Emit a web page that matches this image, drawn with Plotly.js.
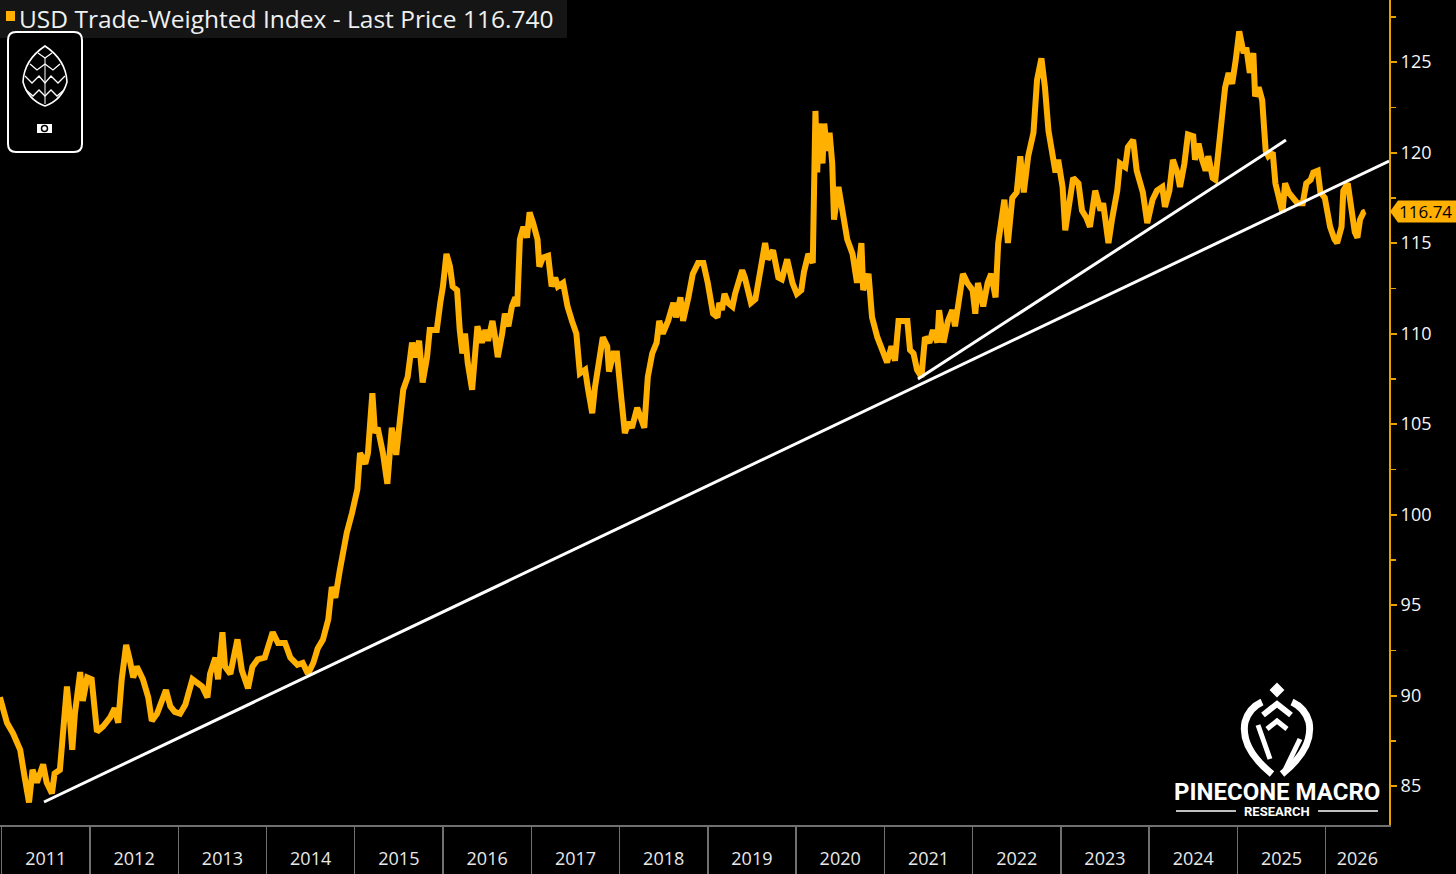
<!DOCTYPE html>
<html><head><meta charset="utf-8">
<script src="https://cdn.plot.ly/plotly-3.0.1.min.js"></script>
<style>html,body{margin:0;padding:0;background:#000;overflow:hidden}#chart{width:1456px;height:874px}</style>
</head><body><div id="chart"></div>
<script>
// Dates as decimal years
const dates = [
2010.98,2011.02,2011.06,2011.13,2011.21,2011.26,2011.31,2011.35,2011.40,2011.47,2011.51,2011.57,2011.60,2011.66,2011.69,2011.74,2011.77,2011.80,2011.83,2011.89,2011.92,2011.97,
2012.02,2012.08,2012.15,2012.23,2012.28,2012.32,2012.36,2012.41,2012.45,2012.49,2012.53,2012.60,2012.66,2012.70,2012.76,2012.82,2012.86,2012.91,2012.96,
2013.02,2013.08,2013.16,2013.21,2013.27,2013.33,2013.36,2013.42,2013.45,2013.50,2013.53,2013.59,2013.67,2013.72,2013.79,2013.84,2013.90,2013.98,
2014.03,2014.07,2014.13,2014.21,2014.27,2014.35,2014.41,2014.47,2014.53,2014.58,2014.64,2014.70,2014.74,2014.78,2014.83,2014.91,2014.97,
2015.00,2015.03,2015.06,2015.12,2015.15,2015.20,2015.23,2015.26,2015.32,2015.37,2015.42,2015.47,2015.51,2015.55,2015.60,2015.65,2015.68,2015.73,2015.77,2015.82,2015.85,2015.93,2015.97,
2016.00,2016.04,2016.08,2016.11,2016.16,2016.19,2016.22,2016.25,2016.28,2016.33,2016.36,2016.39,2016.44,2016.48,2016.51,2016.56,2016.59,2016.62,2016.67,2016.70,2016.74,2016.78,2016.82,2016.84,2016.87,2016.91,2016.95,2016.98,
2017.02,2017.07,2017.09,2017.13,2017.19,2017.23,2017.27,2017.30,2017.36,2017.41,2017.46,2017.51,2017.55,2017.61,2017.64,2017.69,2017.72,2017.76,2017.81,2017.86,2017.88,2017.93,2017.97,
2018.01,2018.06,2018.10,2018.14,2018.20,2018.23,2018.28,2018.32,2018.37,2018.42,2018.45,2018.49,2018.55,2018.61,2018.64,2018.69,2018.72,2018.78,2018.83,2018.89,2018.95,
2019.00,2019.06,2019.11,2019.13,2019.16,2019.19,2019.23,2019.28,2019.31,2019.34,2019.39,2019.42,2019.45,2019.49,2019.54,2019.59,2019.65,2019.68,2019.74,2019.80,2019.84,2019.90,2019.96,
2020.01,2020.06,2020.09,2020.14,2020.19,2020.22,2020.24,2020.26,2020.30,2020.32,2020.35,2020.38,2020.41,2020.43,2020.48,2020.52,2020.58,2020.64,2020.69,2020.74,2020.76,2020.82,2020.86,2020.92,2020.98,
2021.03,2021.08,2021.12,2021.16,2021.21,2021.26,2021.29,2021.33,2021.37,2021.42,2021.46,2021.51,2021.55,2021.60,2021.62,2021.67,2021.72,2021.77,2021.80,2021.84,2021.89,2021.94,
2022.00,2022.03,2022.06,2022.12,2022.17,2022.21,2022.26,2022.29,2022.34,2022.36,2022.40,2022.45,2022.50,2022.54,2022.58,2022.63,2022.69,2022.73,2022.78,2022.82,2022.86,2022.90,2022.94,2022.97,
2023.02,2023.05,2023.10,2023.14,2023.20,2023.24,2023.29,2023.33,2023.39,2023.45,2023.48,2023.54,2023.58,2023.64,2023.67,2023.73,2023.76,2023.82,2023.86,2023.89,2023.93,2023.98,
2024.04,2024.09,2024.15,2024.18,2024.23,2024.27,2024.32,2024.35,2024.40,2024.44,2024.50,2024.52,2024.56,2024.60,2024.64,2024.67,2024.72,2024.75,2024.78,2024.83,2024.86,2024.90,2024.94,2024.98,
2025.02,2025.07,2025.10,2025.14,2025.18,2025.20,2025.24,2025.28,2025.32,2025.35,2025.40,2025.43,2025.46,2025.51,2025.54,2025.58,2025.63,2025.68,2025.74,2025.78,2025.83,2025.86,2025.91,2025.94,2025.99,
2026.02,2026.05,2026.10,2026.13,2026.18,2026.20,2026.25,2026.29,2026.33,2026.36,2026.39,2026.43,2026.45
];
const values = [
89.9,89.2,88.5,87.9,87.0,85.5,84.1,85.9,85.2,86.2,85.2,84.6,85.7,85.9,87.5,90.5,89.0,87.0,89.0,91.3,89.7,91.0,
90.9,88.0,88.3,88.8,89.3,88.5,90.9,92.8,92.0,91.0,91.6,90.9,89.9,88.6,89.0,89.7,90.3,89.4,89.1,
89.0,89.5,90.9,90.7,90.5,89.9,91.2,92.1,90.9,93.5,91.6,91.2,93.1,91.4,90.4,91.6,92.0,92.1,
92.9,93.5,92.9,92.9,92.1,91.7,91.8,91.2,91.8,92.6,93.1,94.2,96.0,95.4,96.9,99.0,100.1,
101.0,101.4,103.4,102.8,103.4,106.7,104.5,104.8,103.4,101.7,104.8,103.3,105.1,106.9,107.6,109.5,108.7,109.6,107.3,108.7,110.2,110.2,111.7,
112.6,114.4,113.7,112.6,112.4,110.2,108.9,110.0,108.4,106.9,109.1,110.4,109.5,110.2,109.6,110.7,109.8,108.7,110.0,111.1,110.4,111.5,112.0,111.5,115.2,115.9,115.3,116.7,
116.1,115.2,113.7,114.2,114.3,112.6,113.1,112.6,112.8,111.5,110.7,110.0,107.8,108.0,107.0,105.6,107.0,108.5,109.8,109.3,107.9,108.9,108.9,
106.9,104.5,105.1,104.8,105.9,105.4,104.8,107.6,108.9,109.5,110.7,110.0,110.7,111.7,110.9,112.0,110.7,112.0,113.3,113.9,113.9,
112.8,111.1,110.9,111.7,111.3,112.2,111.7,111.5,112.2,112.6,113.5,113.1,112.4,111.7,111.9,113.3,115.0,114.1,114.6,113.1,113.0,114.1,112.8,
112.2,112.4,113.4,114.4,113.9,122.3,118.9,121.6,119.4,121.6,120.1,121.1,119.4,116.3,118.1,116.7,115.2,114.4,112.8,115.0,112.4,113.3,110.9,109.8,108.9,
108.4,109.3,108.5,110.7,110.7,110.7,109.1,108.9,108.0,107.6,109.8,109.5,110.2,109.5,111.3,109.5,110.7,111.3,110.4,111.7,113.3,112.8,
112.4,111.1,112.8,111.5,112.8,113.3,112.0,115.0,116.4,117.4,115.0,117.5,117.8,119.8,117.8,119.8,121.1,124.0,125.2,123.6,121.2,120.0,118.9,119.6,
118.1,115.7,117.4,118.6,118.3,116.8,116.4,115.9,117.9,116.8,117.2,115.0,116.3,117.9,119.4,119.2,120.3,120.7,119.0,118.5,117.8,116.1,
117.4,117.9,118.1,117.0,117.9,119.6,118.9,118.1,119.4,121.0,120.9,119.6,120.5,119.6,119.0,119.8,118.6,118.5,119.8,121.8,123.6,124.4,123.8,125.1,
126.7,125.5,125.8,124.4,125.5,123.1,123.6,122.9,120.1,119.8,120.0,118.3,117.8,116.7,118.3,117.8,117.5,117.2,117.2,118.3,118.5,118.9,119.0,117.8,117.5,
116.4,115.9,115.2,115.0,115.9,117.9,118.3,117.0,115.6,115.3,116.3,116.7,116.74
];
const trendMainDates = [2011.48, 2026.72];
const trendMainValues = [84.12, 119.53];
const trendRecentDates = [2021.38, 2025.55];
const trendRecentValues = [107.49, 120.69];
const yearLabels = ['2011','2012','2013','2014','2015','2016','2017','2018','2019','2020','2021','2022','2023','2024','2025','2026'];
const yRange = [82.85, 128.43];
const viewStart = 2010.981, viewEnd = 2026.718;
const lastPrice = 116.74;
const titleText = 'USD Trade-Weighted Index - Last Price 116.740';

const ORANGE = '#FFB000';
const AXIS_OR = '#E9A100';

function toDate(t) {
  const y = Math.floor(t);
  const s = Date.UTC(y, 0, 1), e = Date.UTC(y + 1, 0, 1);
  return new Date(s + (t - y) * (e - s)).toISOString().replace('T', ' ').slice(0, 19);
}

const yearNums = yearLabels.map(Number);
const labelPos = yearNums.map(y => {
  const a = Math.max(y, viewStart), b = Math.min(y + 1, viewEnd);
  return toDate((a + b) / 2);
});
const separators = yearNums.map(y => toDate(y));

const traces = [
  {x: dates.map(toDate), y: values, type: 'scatter', mode: 'lines',
   line: {color: ORANGE, width: 6}, hoverinfo: 'skip'},
  {x: trendMainDates.map(toDate), y: trendMainValues, type: 'scatter', mode: 'lines',
   line: {color: '#ffffff', width: 3}, hoverinfo: 'skip'},
  {x: trendRecentDates.map(toDate), y: trendRecentValues, type: 'scatter', mode: 'lines',
   line: {color: '#ffffff', width: 3}, hoverinfo: 'skip'}
];

function pxShape(path, opts) {
  return Object.assign({type: 'path', xref: 'paper', yref: 'paper', xsizemode: 'pixel', ysizemode: 'pixel',
    xanchor: 0, yanchor: 1, path: path, line: {color: '#fff', width: 2}}, opts || {});
}

const shapes = [
  // title band
  {type: 'rect', xref: 'paper', yref: 'paper', xsizemode: 'pixel', ysizemode: 'pixel', xanchor: 0, yanchor: 1,
   x0: 0, x1: 567, y0: -38, y1: 0, fillcolor: '#151515', line: {width: 0}},
  {type: 'rect', xref: 'paper', yref: 'paper', xsizemode: 'pixel', ysizemode: 'pixel', xanchor: 0, yanchor: 1,
   x0: 6, x1: 15, y0: -21, y1: -11, fillcolor: ORANGE, line: {width: 0}},
  // pinecone badge
  pxShape('M16,-32 L74,-32 Q82,-32 82,-40 L82,-144 Q82,-152 74,-152 L16,-152 Q8,-152 8,-144 L8,-40 Q8,-32 16,-32 Z',
    {fillcolor: '#000'}),
  pxShape('M45,-46 Q66,-60 67,-82 Q62,-100 45,-106 Q28,-100 23,-82 Q24,-60 45,-46 Z', {line: {color: '#fff', width: 1.6}}),
  pxShape('M38,-53 L45,-58 L52,-53', {line: {color: '#fff', width: 1.3}}),
  pxShape('M30,-64 L37,-70 L45,-64 L53,-70 L60,-64', {line: {color: '#fff', width: 1.3}}),
  pxShape('M25,-76 L32,-83 L39,-76 L45,-83 L51,-76 L58,-83 L65,-76', {line: {color: '#fff', width: 1.3}}),
  pxShape('M26,-90 L33,-96 L39,-90 L45,-96 L51,-90 L57,-96 L64,-90', {line: {color: '#fff', width: 1.3}}),
  pxShape('M45,-58 L45,-104', {line: {color: '#fff', width: 1}}),
  {type: 'rect', xref: 'paper', yref: 'paper', xsizemode: 'pixel', ysizemode: 'pixel', xanchor: 0, yanchor: 1,
   x0: 37, x1: 52, y0: -133, y1: -124, fillcolor: '#fff', line: {width: 0}},
  {type: 'circle', xref: 'paper', yref: 'paper', xsizemode: 'pixel', ysizemode: 'pixel', xanchor: 0, yanchor: 1,
   x0: 41.5, x1: 47.5, y0: -131.5, y1: -125.5, fillcolor: '#fff', line: {color: '#000', width: 1.5}},
  // last price tag
  {type: 'path', xref: 'paper', yref: 'y', xsizemode: 'pixel', ysizemode: 'pixel', xanchor: 1, yanchor: lastPrice,
   path: 'M1,0 L9,11 L80,11 L80,-11 L9,-11 Z', fillcolor: ORANGE, line: {width: 0}},
  // watermark logo (anchored at bottom-right corner of plot)
  Object.assign(pxShape('M-112,141 L-106,135 L-112,129 L-118,135 Z', {fillcolor: '#fff'}), {xanchor: 1, yanchor: 0}),
  Object.assign(pxShape('M-117,51 Q-149,77 -144,103 Q-140,117 -127,123', {line: {color: '#fff', width: 7}}), {xanchor: 1, yanchor: 0}),
  Object.assign(pxShape('M-107,51 Q-75,77 -80,103 Q-84,117 -97,123', {line: {color: '#fff', width: 7}}), {xanchor: 1, yanchor: 0}),
  Object.assign(pxShape('M-126,110 L-112,121 L-98,110', {line: {color: '#fff', width: 6}}), {xanchor: 1, yanchor: 0}),
  Object.assign(pxShape('M-122,96 L-112,104 L-102,96', {line: {color: '#fff', width: 5}}), {xanchor: 1, yanchor: 0}),
  Object.assign(pxShape('M-131,100 L-119,66', {line: {color: '#fff', width: 5}}), {xanchor: 1, yanchor: 0}),
  Object.assign(pxShape('M-104,55 L-89,86', {line: {color: '#fff', width: 5}}), {xanchor: 1, yanchor: 0}),
  Object.assign(pxShape('M-213,14 L-153,14', {line: {color: '#fff', width: 1.5}}), {xanchor: 1, yanchor: 0}),
  Object.assign(pxShape('M-71,14 L-11,14', {line: {color: '#fff', width: 1.5}}), {xanchor: 1, yanchor: 0})
];

const annotations = [
  {xref: 'paper', yref: 'paper', x: 0, y: 1, xanchor: 'left', yanchor: 'middle', xshift: 17, yshift: -18,
   text: titleText, showarrow: false, font: {family: 'Open Sans', size: 24.5, color: '#f0f0f0'}},
  {xref: 'paper', yref: 'y', x: 1, y: lastPrice, xanchor: 'left', yanchor: 'middle', xshift: 8,
   text: lastPrice.toFixed(2), showarrow: false, font: {family: 'Open Sans', size: 17, color: '#000'}},
  {xref: 'paper', yref: 'paper', x: 1, y: 0, xanchor: 'center', yanchor: 'middle', xshift: -112, yshift: 33,
   text: '<b>PINECONE MACRO</b>', showarrow: false, font: {family: 'Roboto', size: 24, color: '#fff'}},
  {xref: 'paper', yref: 'paper', x: 1, y: 0, xanchor: 'center', yanchor: 'middle', xshift: -112, yshift: 14,
   text: '<b>RESEARCH</b>', showarrow: false, font: {family: 'Roboto', size: 13, color: '#fff'}}
];

const layout = {
  width: 1456, height: 874,
  margin: {l: 0, r: 67, t: 0, b: 49, pad: 0},
  paper_bgcolor: '#000', plot_bgcolor: '#000',
  showlegend: false,
  font: {family: 'Open Sans', color: '#fff'},
  xaxis: {
    type: 'date', range: [toDate(viewStart), toDate(viewEnd)],
    tickmode: 'array', tickvals: labelPos, ticktext: yearLabels, ticks: '',
    tickfont: {family: 'Open Sans', size: 18, color: '#e8e8e8'}, ticklabelstandoff: 16,
    showline: true, linecolor: '#707070', linewidth: 2, showgrid: false, zeroline: false,
    minor: {tickmode: 'array', tickvals: separators, ticks: 'outside', ticklen: 50, tickcolor: '#707070', tickwidth: 1.5, showgrid: false},
    fixedrange: true
  },
  yaxis: {
    side: 'right', range: yRange, tickmode: 'linear', tick0: 0, dtick: 5,
    ticks: 'outside', ticklen: 6, tickwidth: 2, tickcolor: AXIS_OR,
    tickfont: {family: 'Open Sans', size: 18, color: '#f5f5f5'},
    showline: true, linecolor: AXIS_OR, linewidth: 2, showgrid: false, zeroline: false,
    minor: {tick0: 0, dtick: 2.5, ticks: 'outside', ticklen: 5, tickwidth: 1.5, tickcolor: AXIS_OR, showgrid: false},
    fixedrange: true
  },
  shapes: shapes,
  annotations: annotations
};

Plotly.newPlot('chart', traces, layout, {displayModeBar: false, staticPlot: true});
</script></body></html>
